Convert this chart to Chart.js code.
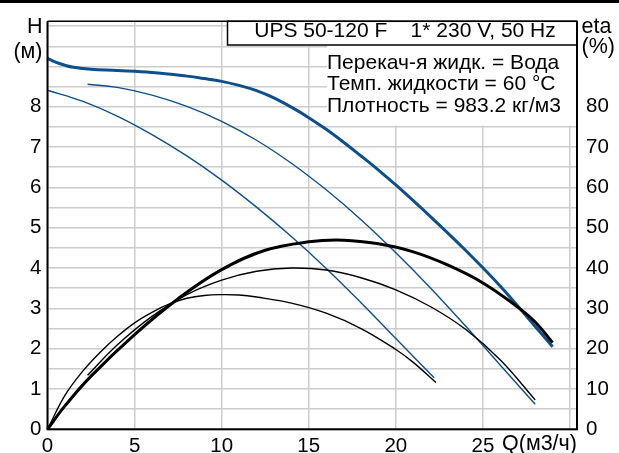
<!DOCTYPE html>
<html>
<head>
<meta charset="utf-8">
<script src="https://cdn.jsdelivr.net/npm/chart.js@4.4.1/dist/chart.umd.min.js"></script>
<style>
html,body{margin:0;padding:0;background:#fff;}
#wrap{width:619px;height:453px;position:relative;}
</style>
</head>
<body>
<div id="wrap"><canvas id="c" width="619" height="453"></canvas></div>
<script>
// ---- data ----
// Head curves H (m) vs flow Q (m3/h)
const qH3 = [0, 0.5, 1, 1.5, 2.5, 4, 6, 8, 9, 10, 11, 12, 13, 14, 15, 16, 17, 18, 19, 20, 22, 24, 26, 28, 29];
const H3  = [9.2, 9.1, 9.03, 8.98, 8.93, 8.9, 8.85, 8.76, 8.70, 8.63, 8.53, 8.40, 8.22, 7.99, 7.73, 7.44, 7.12, 6.78, 6.43, 6.06, 5.27, 4.44, 3.55, 2.55, 2.05];
const qH2 = [2.3, 4, 6, 8, 10, 12, 14, 16, 18, 20, 22, 24, 26, 28];
const H2  = [8.56, 8.48, 8.29, 8.01, 7.64, 7.17, 6.6, 5.94, 5.2, 4.38, 3.5, 2.56, 1.59, 0.62];
const qH1 = [0, 2, 4, 6, 8, 10, 12, 14, 16, 18, 20, 22.2];
const H1  = [8.41, 8.14, 7.77, 7.31, 6.78, 6.18, 5.51, 4.78, 3.99, 3.14, 2.25, 1.28];
// Efficiency curves eta (%) vs Q
const qE3 = [0, 1, 2.5, 5, 7.5, 10, 12.5, 15, 17, 19, 21, 23, 25, 27, 28, 29];
const E3  = [0, 5.8, 13.2, 23.5, 32.4, 39.6, 44.4, 46.5, 46.9, 46.0, 44.0, 40.7, 36.3, 30.3, 26.6, 21.5];
const qE2 = [2.3, 4, 6, 8, 10, 12, 14, 16, 18, 20, 22, 24, 26, 28];
const E2  = [13.4, 20.9, 28.0, 33.4, 37.0, 39.2, 40.0, 39.5, 37.6, 34.6, 30.4, 24.8, 17.2, 7.3];
const qE1 = [0, 1, 2, 3, 4, 5, 6, 7, 8, 9, 10, 11, 12, 14, 16, 18, 20, 21, 22.3];
const E1  = [0, 8.4, 14.3, 19.0, 23.0, 26.4, 29.0, 31.1, 32.5, 33.2, 33.4, 33.3, 32.8, 31.3, 28.8, 25.0, 19.8, 16.6, 11.6];

// ticks
const xTickValues = [0, 5, 10, 15, 20, 25, 30];
const xTickLabels = ['0', '5', '10', '15', '20', '25', ''];
const yTickLabels = ['0', '1', '2', '3', '4', '5', '6', '7', '8'];
const y2TickLabels = ['0', '10', '20', '30', '40', '50', '60', '70', '80'];

// texts
const titleText = 'UPS 50-120 F    1* 230 V, 50 Hz';
const infoLines = ['Перекач-я жидк. = Вода', 'Темп. жидкости = 60 °C', 'Плотность = 983.2 кг/м3'];

const BLUE = '#0d4f8b';
const FONT = "'Liberation Sans', Arial, sans-serif";

function pts(qs, vs){ return qs.map((q,i)=>({x:q, y:vs[i]})); }

function ds(data, color, width, axis){
  return {data, borderColor: color, borderWidth: width, pointRadius: 0, showLine: true,
          fill: false, tension: 0.4, yAxisID: axis, clip: false,
          borderCapStyle: 'butt', borderJoinStyle: 'round'};
}

const overlay = {
  id: 'overlay',
  afterDatasetsDraw(chart){
    const ctx = chart.ctx, a = chart.chartArea;
    ctx.save();
    // white background behind info text
    ctx.fillStyle = '#fff';
    ctx.fillRect(327, 45, a.right - 327, 80.5);
    // title box
    ctx.fillRect(227.5, a.top, a.right - 227.5, 45 - a.top);
    ctx.strokeStyle = '#000';
    ctx.lineWidth = 1.5;
    ctx.strokeRect(227.5, a.top, a.right - 227.5, 45 - a.top);
    // frame
    ctx.lineWidth = 2;
    ctx.beginPath();
    ctx.moveTo(a.left, a.top); ctx.lineTo(a.left, a.bottom); ctx.lineTo(a.right, a.bottom); ctx.lineTo(a.right, a.top);
    ctx.stroke();
    ctx.lineWidth = 1.5;
    ctx.beginPath(); ctx.moveTo(a.left, a.top); ctx.lineTo(a.right, a.top); ctx.stroke();
    // top black band
    ctx.fillStyle = '#000';
    ctx.fillRect(0, 0, 619, 3);
    // texts
    ctx.fillStyle = '#000';
    ctx.font = '21px ' + FONT;
    ctx.textBaseline = 'alphabetic';
    ctx.textAlign = 'center';
    ctx.fillText(titleText, 405, 36.7);
    ctx.textAlign = 'left';
    infoLines.forEach((t,i)=> ctx.fillText(t, 327, 68.5 + i*21.7));
    ctx.font = '21.5px ' + FONT;
    ctx.textAlign = 'right';
    ctx.fillText('H', 42.5, 33);
    ctx.fillText('(м)', 42.5, 57.5);
    ctx.textAlign = 'left';
    ctx.fillText('eta', 581.5, 33);
    ctx.fillText('(%)', 581.5, 53);
    ctx.fillText('Q(м3/ч)', 502, 450);
    ctx.restore();
  }
};

new Chart(document.getElementById('c'), {
  type: 'scatter',
  data: {
    datasets: [
      ds(pts(qE1, E1), '#000', 1.4, 'y2'),
      ds(pts(qE2, E2), '#000', 1.4, 'y2'),
      ds(pts(qE3, E3), '#000', 3, 'y2'),
      ds(pts(qH1, H1), BLUE, 1.4, 'y'),
      ds(pts(qH2, H2), BLUE, 1.4, 'y'),
      ds(pts(qH3, H3), BLUE, 3, 'y')
    ]
  },
  options: {
    responsive: false,
    animation: false,
    devicePixelRatio: 1,
    layout: {padding: {top: 13, left: 0, right: 0, bottom: 0}},
    plugins: {legend: {display: false}, tooltip: {enabled: false}},
    scales: {
      x: {
        type: 'linear', position: 'bottom', min: 0, max: 30.4,
        afterBuildTicks: s => { s.ticks = xTickValues.map(v => ({value: v})); },
        afterFit: s => { s.height = 23.7; },
        grid: {color: '#cccccc', lineWidth: 1.5, drawTicks: false},
        border: {display: false},
        ticks: {
          padding: 5, color: '#000', font: {family: FONT, size: 20.5},
          maxRotation: 0, autoSkip: false,
          callback: (v) => { const i = xTickValues.indexOf(v); return i >= 0 ? xTickLabels[i] : ''; }
        }
      },
      y: {
        type: 'linear', position: 'left', min: 0, max: 10.12,
        afterBuildTicks: s => { const t = []; for (let k = 0; k <= 20; k++) t.push({value: k/2}); s.ticks = t; },
        afterFit: s => { s.width = 47.5; },
        grid: {color: '#cccccc', lineWidth: 1.5, drawTicks: false},
        border: {display: false},
        ticks: {
          padding: 6, color: '#000', font: {family: FONT, size: 20.5}, autoSkip: false,
          callback: (v) => (Number.isInteger(v) && v < yTickLabels.length) ? yTickLabels[v] : ''
        }
      },
      y2: {
        type: 'linear', position: 'right', min: 0, max: 101.2,
        afterBuildTicks: s => { s.ticks = y2TickLabels.map(l => ({value: Number(l)})); },
        afterFit: s => { s.width = 42; },
        grid: {display: false, drawTicks: false},
        border: {display: false},
        ticks: {
          padding: 9, color: '#000', font: {family: FONT, size: 20.5}, autoSkip: false,
          callback: (v) => String(v)
        }
      }
    }
  },
  plugins: [overlay]
});
</script>
</body>
</html>
